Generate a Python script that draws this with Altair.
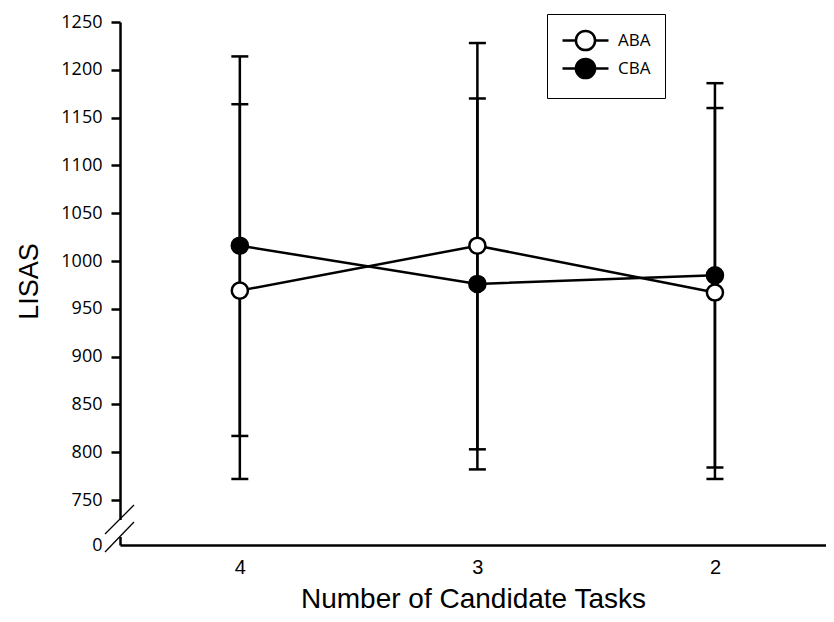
import altair as alt
import pandas as pd

tasks = ["4", "3", "2"]
groups = ["ABA", "CBA"]
aba_mean = [969, 1016, 967]
aba_lo = [772, 803, 772]
aba_hi = [1164, 1228, 1160]
cba_mean = [1016, 976, 985]
cba_lo = [817, 782, 784]
cba_hi = [1214, 1170, 1186]
y_ticks = [0, 750, 800, 850, 900, 950, 1000, 1050, 1100, 1150, 1200, 1250]

rows = []
for g, m, lo, hi in [("ABA", aba_mean, aba_lo, aba_hi), ("CBA", cba_mean, cba_lo, cba_hi)]:
    for t, mv, l, h in zip(tasks, m, lo, hi):
        rows.append(dict(task=t, group=g, mean=mv, lo=l, hi=h))
df = pd.DataFrame(rows)

W, H = 706, 523
BREAK_PX = 45

xenc = alt.X(
    "task:N", sort=tasks,
    scale=alt.Scale(type="point", padding=0.486, align=0.519),
    axis=alt.Axis(
        title="Number of Candidate Tasks", labelAngle=0, ticks=False,
        labelFont="Liberation Sans", labelFontSize=20, labelColor="black",
        labelPadding=12, domainWidth=2.5, domainColor="black", grid=False,
        titleFont="Liberation Sans", titleFontSize=28, titleFontWeight="normal",
        titleColor="black", titleY=62, titleBaseline="alphabetic",
    ),
)
yscale = alt.Scale(domain=[0, 750, 1250], range=[H, H - BREAK_PX, 0], nice=False, zero=False)
yaxis = alt.Axis(
    values=y_ticks, format="d", title="LISAS",
    titleFont="Liberation Sans", titleFontSize=27, titleFontWeight="normal",
    titleColor="black", titleAngle=270, titleX=-83, titleY=259,
    titleAlign="center", titleBaseline="alphabetic",
    labelFont="Open Sans", labelFontSize=18, labelColor="black", labelPadding=9,
    tickSize=9, tickWidth=2.5, tickColor="black",
    tickOpacity={"condition": {"test": "datum.value === 0", "value": 0}, "value": 1},
    domainColor="black", domainWidth=2.5, grid=False,
)

base = alt.Chart(df)

err = base.mark_rule(color="black", strokeWidth=2.5).encode(
    x=xenc, y=alt.Y("lo:Q", scale=yscale, axis=yaxis), y2="hi:Q"
)
cap_lo = base.mark_tick(color="black", thickness=2.5, size=17, orient="horizontal", opacity=1).encode(
    x=alt.X("task:N", sort=tasks), y=alt.Y("lo:Q")
)
cap_hi = base.mark_tick(color="black", thickness=2.5, size=17, orient="horizontal", opacity=1).encode(
    x=alt.X("task:N", sort=tasks), y=alt.Y("hi:Q")
)
lines = base.mark_line(color="black", strokeWidth=2.5).encode(
    x=alt.X("task:N", sort=tasks), y=alt.Y("mean:Q"), detail="group:N"
)

# legend symbol: circle with a line through it (unit = 11 px)
r = 0.87
L = 2.09
sym = (f"M{-L},0H{-r}M{r},0H{L}"
       f"M{-r},0A{r},{r} 0 1,0 {r},0A{r},{r} 0 1,0 {-r},0Z")

points = base.mark_circle(stroke="black", strokeWidth=2.5, size=260, opacity=1).encode(
    x=alt.X("task:N", sort=tasks), y=alt.Y("mean:Q"),
    fill=alt.Fill(
        "group:N",
        scale=alt.Scale(domain=groups, range=["white", "black"]),
        legend=alt.Legend(
            title=None, orient="none", legendX=427, legendY=-8,
            symbolType=sym, symbolSize=484, symbolOffset=12,
            symbolStrokeColor="black", symbolStrokeWidth=2.5, symbolOpacity=1,
            labelFont="Open Sans", labelFontSize=17, labelColor="black",
            labelOffset=20, rowPadding=-4, padding=14,
            strokeColor="black", fillColor="white",
        ),
    ),
)

one = pd.DataFrame({"k": [0]})
cover = alt.Chart(one).mark_rule(color="white", strokeWidth=6).encode(
    x=alt.value(0), y=alt.value(498), y2=alt.value(515)
)
brk1 = alt.Chart(one).mark_rule(color="black", strokeWidth=1.3).encode(
    x=alt.value(-15), x2=alt.value(14), y=alt.value(512), y2=alt.value(483)
)
brk2 = alt.Chart(one).mark_rule(color="black", strokeWidth=1.3).encode(
    x=alt.value(-15), x2=alt.value(14), y=alt.value(530), y2=alt.value(500)
)

chart = alt.layer(err, cap_lo, cap_hi, lines, points, cover, brk1, brk2).properties(
    width=W, height=H,
    autosize=alt.AutoSizeParams(type="none"),
    padding={"left": 112, "top": 14, "right": 0, "bottom": 69},
).configure_view(strokeWidth=0)

chart.save("out.html", embed_options={"renderer": "svg", "actions": False})
